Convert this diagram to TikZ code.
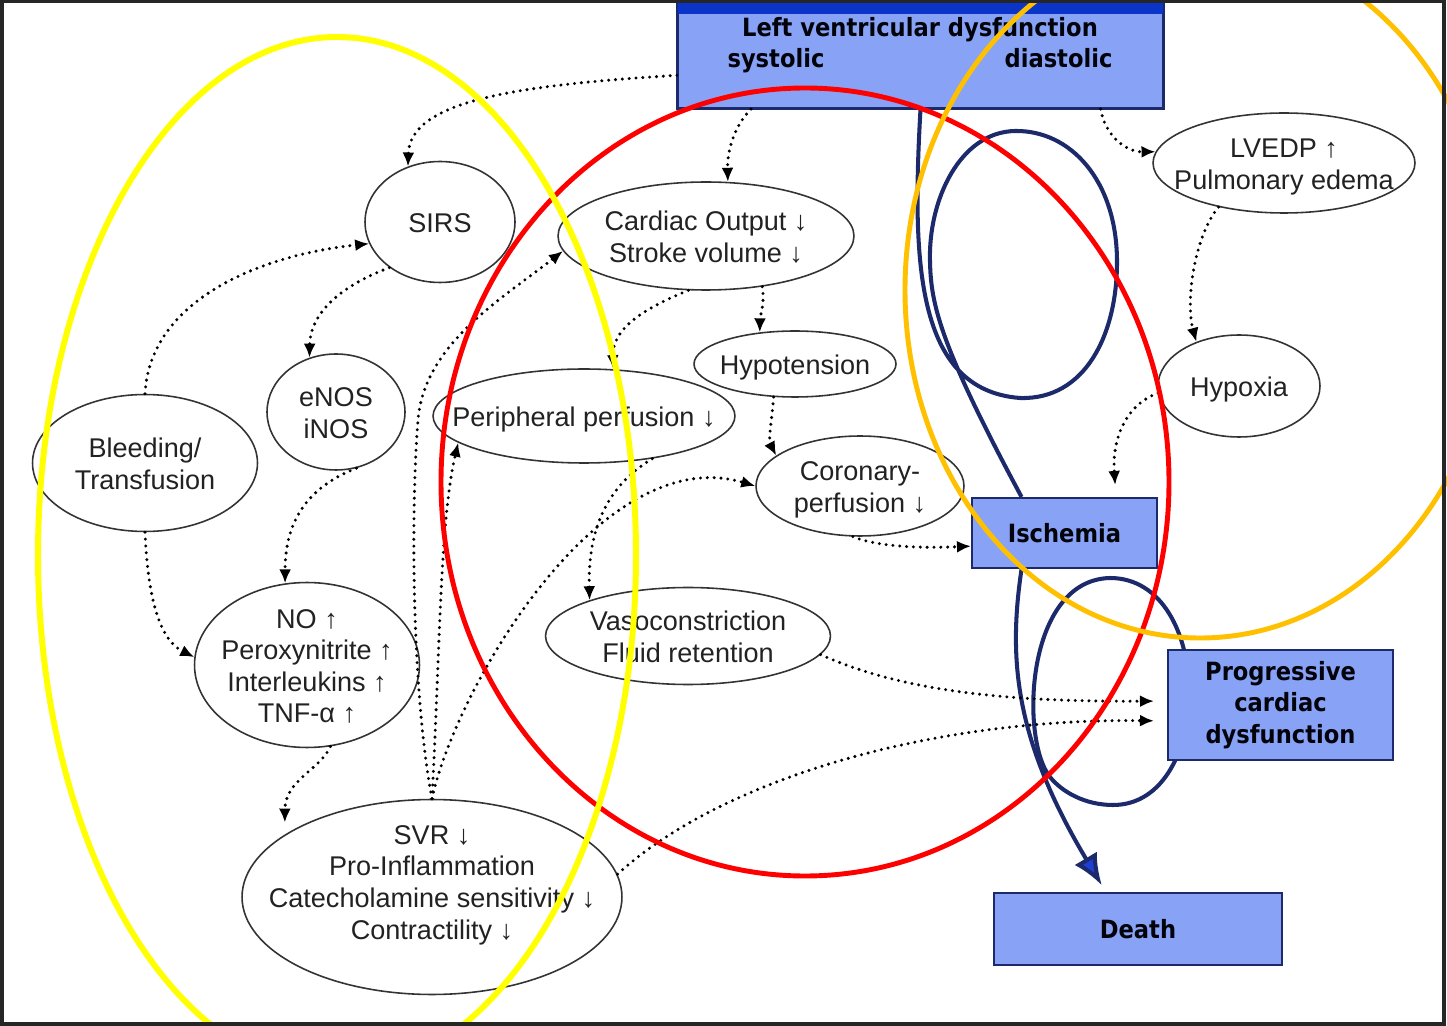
\documentclass[tikz,border=0pt]{standalone}
\usepackage{fontspec}
\setmainfont{Liberation Sans}
\newfontfamily\boxfont[FakeStretch=0.9]{DejaVu Sans}
\usetikzlibrary{shapes.geometric,arrows.meta}

\definecolor{boxblue}{HTML}{88A3F6}
\definecolor{bandblue}{HTML}{0A35C8}
\definecolor{navy}{HTML}{1C2A6B}
\definecolor{tipblue}{HTML}{1E3FD6}
\definecolor{hlyellow}{HTML}{FFFF00}
\definecolor{hlred}{HTML}{FF0000}
\definecolor{hlorange}{HTML}{FFC000}
\definecolor{inkgray}{HTML}{222222}

\newcommand{\ovaltext}[2][-6pt]{\smash{\makebox[0pt]{\raisebox{#1}{\begin{tabular}{@{}c@{}}#2\end{tabular}}}}}

\pgfdeclarelayer{back}
\pgfsetlayers{back,main}

\tikzset{
    oval/.style={ellipse, draw=black!80, line width=0.9pt, fill=white, inner sep=0pt, text=inkgray, font=\fontsize{15.4}{18}\selectfont},
    panel/.style={rectangle, draw=navy, line width=1.2pt, fill=boxblue, inner sep=0pt, align=center, text=black!90!navy, font=\boxfont\bfseries\fontsize{14.3}{18}\selectfont},
    dotlink/.style={line width=1.9pt, dash pattern=on 0pt off 3.9pt, line cap=round, -{Latex[length=0.28cm,width=0.24cm]}},
    bluepath/.style={navy, line width=2.3pt},
}

\begin{document}
\begin{tikzpicture}[x=0.02cm,y=-0.02cm]
    \useasboundingbox (0,0) rectangle (1447,1026);
    \clip (0,0) rectangle (1447,1026);

    % boxes
    \node[panel, minimum width=9.7cm, minimum height=2.16cm] (lv) at (920.5,54) {};
    \fill[bandblue] (lv.north west) rectangle ([yshift=-0.3cm]lv.north east);
    \draw[navy, line width=1.2pt] (lv.north west) rectangle (lv.south east);
    \node[panel, draw=none, fill=none] (lvtitle) at (920,45) {Left ventricular dysfunction\\ \makebox[7.7cm]{systolic\hfill diastolic}};
    \node[panel, minimum width=3.7cm, minimum height=1.4cm] (isch) at (1064.5,533) {Ischemia};
    \node[panel, minimum width=4.5cm, minimum height=2.2cm] (prog) at (1280.5,705) {Progressive\\cardiac\\dysfunction};
    \node[panel, minimum width=5.76cm, minimum height=1.44cm] (death) at (1138,929) {Death};

    % ovals
    \node[oval, minimum width=3cm, minimum height=2.42cm] (sirs) at (440,222) {\ovaltext{SIRS}};
    \node[oval, minimum width=5.92cm, minimum height=2.16cm] (co) at (706,236) {\ovaltext{Cardiac Output ↓\\Stroke volume ↓}};
    \node[oval, minimum width=5.24cm, minimum height=2cm] (lvedp) at (1284,163) {\ovaltext{LVEDP ↑\\Pulmonary edema}};
    \node[oval, minimum width=4.04cm, minimum height=1.32cm] (hypo) at (795,364) {\ovaltext{Hypotension}};
    \node[oval, minimum width=2.76cm, minimum height=2.32cm] (enos) at (336,412) {\ovaltext{eNOS\\iNOS}};
    \node[oval, minimum width=6.04cm, minimum height=1.88cm] (pp) at (584,416) {\ovaltext{Peripheral perfusion ↓}};
    \node[oval, minimum width=3.24cm, minimum height=2.04cm] (hyp) at (1239,386) {\ovaltext{Hypoxia}};
    \node[oval, minimum width=4.5cm, minimum height=2.74cm] (bt) at (145,463) {\ovaltext{Bleeding/\\Transfusion}};
    \node[oval, minimum width=4.16cm, minimum height=2cm] (cor) at (860,486) {\ovaltext{Coronary-\\perfusion ↓}};
    \node[oval, minimum width=5.7cm, minimum height=1.94cm] (vaso) at (688,636) {\ovaltext{Vasoconstriction\\Fluid retention}};
    \node[oval, minimum width=4.5cm, minimum height=3.3cm] (no) at (307,665) {\ovaltext{NO ↑\\Peroxynitrite ↑\\Interleukins ↑\\TNF-α ↑}};
    \node[oval, minimum width=7.6cm, minimum height=3.9cm] (svr) at (432,897) {\ovaltext[3pt]{SVR ↓\\Pro-Inflammation\\Catecholamine sensitivity ↓\\Contractility ↓}};

    % blue course
    \begin{pgfonlayer}{back}
        \fill[white] (0,0) rectangle (1447,1026);
        \draw[bluepath] (lv.south) .. controls (912,260) and (915,390) .. (1020,398)
            .. controls (1085,400) and (1117,335) .. (1117,262)
            .. controls (1117,180) and (1070,130) .. (1015,131)
            .. controls (960,132) and (928,200) .. (930,262)
            .. controls (931,305) and (940,345) .. (isch.140);
        \draw[bluepath] (1050,777) .. controls (1020,740) and (1025,580) .. (1110,578)
            .. controls (1215,578) and (1215,805) .. (1113,805)
            .. controls (1085,805) and (1062,792) .. cycle;
        \draw[bluepath, -{Latex[length=0.62cm,width=0.52cm,fill=tipblue]}, shorten >=0.16cm] (isch.220) .. controls (1008,660) and (1015,740) .. (death.131);
    \end{pgfonlayer}

    % dotted links
    \draw[dotlink] (lv.185) .. controls (520,85) and (410,100) .. (sirs.120);
    \draw[dotlink] (lv.198) .. controls (735,125) and (727,150) .. (co.68);
    \draw[dotlink] (lv.343) .. controls (1105,135) and (1125,152) .. (lvedp.175);
    \draw[dotlink] (lvedp.214) .. controls (1195,235) and (1185,300) .. (hyp.134);
    \draw[dotlink, shorten >=0.24cm] (hyp.185) .. controls (1125,405) and (1112,440) .. (isch.35);
    \draw[dotlink] (co.318) .. controls (765,305) and (760,315) .. (hypo.138);
    \draw[dotlink] (co.252) .. controls (640,310) and (612,330) .. (pp.58);
    \draw[dotlink] (hypo.237) .. controls (772,420) and (768,440) .. (cor.160);
    \draw[dotlink] (cor.262) .. controls (880,548) and (930,548) .. (isch.188);
    \draw[dotlink] (pp.328) .. controls (600,490) and (588,540) .. (vaso.160);
    \draw[dotlink] (bt.north) .. controls (150,300) and (260,255) .. (sirs.197);
    \draw[dotlink] (sirs.222) .. controls (330,290) and (310,320) .. (enos.116);
    \draw[dotlink] (enos.290) .. controls (300,490) and (285,530) .. (no.105);
    \draw[dotlink] (bt.south) .. controls (148,600) and (160,640) .. (no.176);
    \draw[dotlink, shorten >=0.24cm] (no.286) .. controls (320,770) and (285,780) .. (svr.157);
    \draw[dotlink] (svr.north) .. controls (413,700) and (410,520) .. (418,420) .. controls (424,345) and (500,300) .. (co.186);
    \draw[dotlink] (svr.north) .. controls (440,650) and (440,520) .. (pp.192);
    \draw[dotlink] (svr.north) .. controls (455,690) and (600,440) .. (cor.west);
    \draw[dotlink, shorten >=0.26cm] (vaso.352) .. controls (900,690) and (1000,702) .. (prog.178.5);
    \draw[dotlink, shorten >=0.26cm] (svr.7) .. controls (720,780) and (930,718) .. (prog.188.6);

    % marks
    \draw[hlred, line width=2.8pt] (805,482) ellipse [x radius=364, y radius=394];
    \draw[hlorange, line width=2.8pt] (1200,290) ellipse [x radius=295, y radius=348];
    \draw[hlyellow, line width=3.4pt] (337,555) ellipse [x radius=299, y radius=518];

    \draw[black!85, line width=2.2pt] (2,1) rectangle (1444,1024);
\end{tikzpicture}
\end{document}
